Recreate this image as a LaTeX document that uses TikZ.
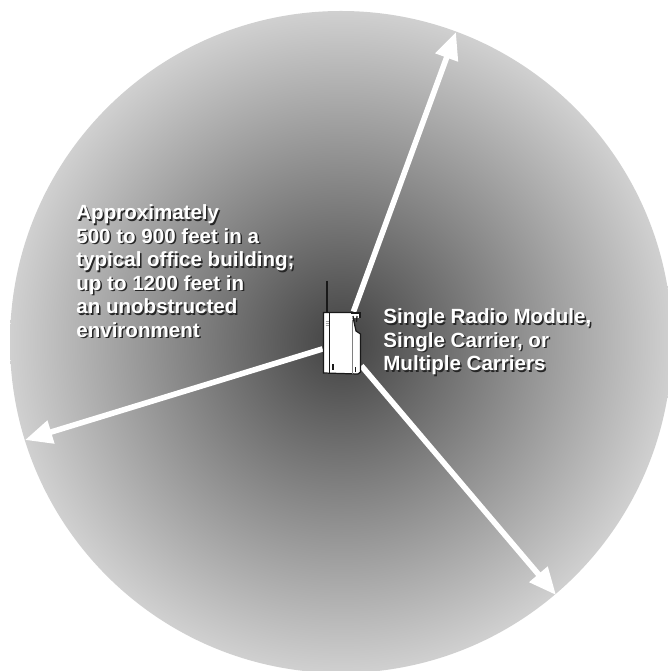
\documentclass[tikz,border=0pt]{standalone}
\usepackage{fontspec}
\setmainfont{Liberation Sans}
\usepackage{xcolor}
\usetikzlibrary{arrows.meta}
\definecolor{cellcore}{RGB}{66, 66, 66}
\definecolor{celledge}{RGB}{208, 208, 208}
\definecolor{radioink}{RGB}{25, 25, 25}
\pgfdeclareradialshading{cellfade}{\pgfpointorigin}{%
  color(0bp)=(cellcore); color(25bp)=(celledge); color(50bp)=(celledge)}
\newcommand{\liftedlabel}[3]{%
  \node[labelshade] at ([xshift=0.03cm, yshift=-0.03cm]#2) {#3};
  \node[labeltext] (#1) at (#2) {#3};}

\begin{document}
\begin{tikzpicture}[
  x=0.02cm, y=-0.02cm,
  reach/.style={-{Triangle[length=15.5pt, width=13pt]}, white, line width=3.2pt},
  labeltext/.style={anchor=north west, inner sep=0pt, align=left, text=white,
                    font=\fontsize{11.7}{13.4}\selectfont\bfseries},
  labelshade/.style={labeltext, text=black!85},
  radio/.style={rectangle, minimum width=0.76cm, minimum height=1.24cm, inner sep=0pt},
  radioline/.style={draw=radioink, line width=0.7pt}
]
  \useasboundingbox (0,0) rectangle (667,671);
  \fill[white] (0,0) rectangle (667,671);

  % coverage area
  \shade[shading=cellfade] (341,342) circle [radius=331];

  % module position and arrow ends
  \node[radio]  (module) at (342,343) {};
  \coordinate   (reachn) at (456,32);
  \coordinate   (reachw) at (25,440);
  \coordinate   (reachs) at (556,595);

  % arrows
  \draw[reach] (module) -- (reachn);
  \draw[reach] (module) -- (reachw);
  \draw[reach] (module) -- (reachs);

  % radio module
  \draw[line width=1.1pt, radioink] (327,281) -- (327,312);
  \draw[radioline, fill=white] (323.5,312.5) -- (352,312.5) -- (356,331) -- (360.5,334)
    -- (360.5,372) -- (358,374) -- (323.5,373) -- cycle;
  \draw[radioline] (329.5,312.5) -- (329.5,373.5);
  \draw[draw=gray, line width=0.6pt] (352.5,320) -- (352.5,373.5);
  \fill[radioink] (331.5,364) rectangle (333.5,370);
  \fill[radioink] (354.5,367) rectangle (356,372);
  \fill[white] (351,313) rectangle (360,318);
  \draw[radioline] (351,313) -- (360,313) -- (360,318);
  \draw[radioline] (353,316) -- (354,321) (357,316) -- (356.5,322);
  \draw[draw=gray!70, line width=0.3pt] (325.5,321) -- (328.5,321) (325.5,323) -- (328.5,323)
    (325.5,325) -- (328.5,325);

  % labels
  \liftedlabel{rangenote}{76,204.5}{Approximately\\500 to 900 feet in a\\typical office building;\\up to 1200 feet in\\an unobstructed\\environment}
  \liftedlabel{modulenote}{383,308.5}{Single Radio Module,\\Single Carrier, or\\Multiple Carriers}
\end{tikzpicture}
\end{document}
